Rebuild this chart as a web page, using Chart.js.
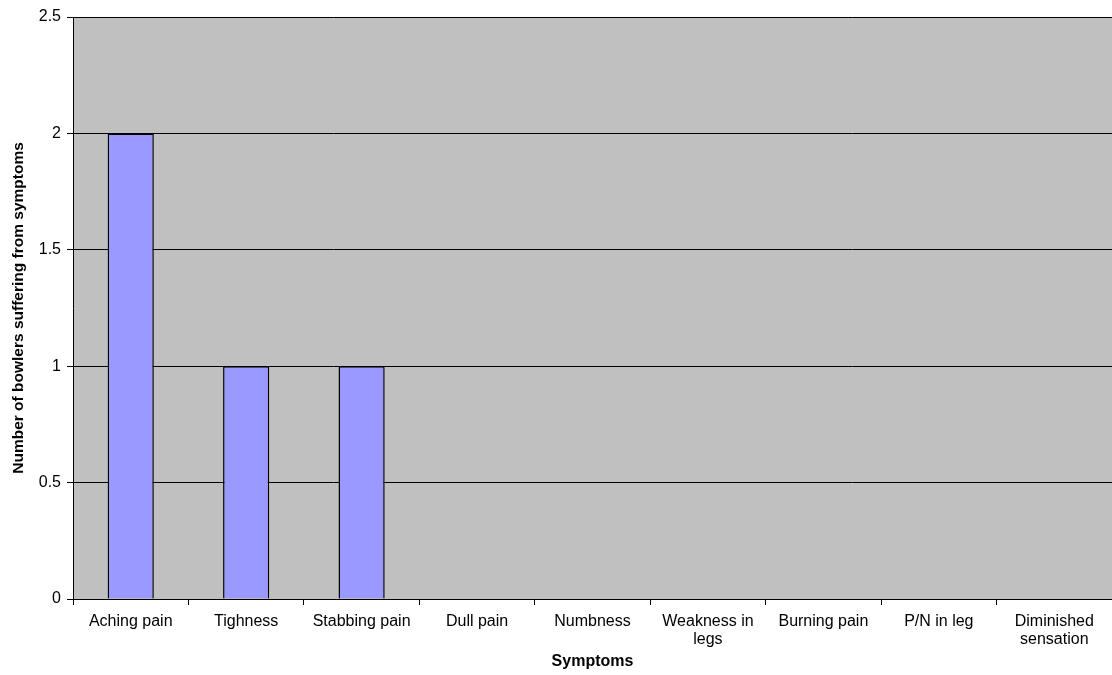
<!DOCTYPE html>
<html>
<head>
<meta charset="utf-8">
<script src="https://cdn.jsdelivr.net/npm/chart.js@4/dist/chart.umd.min.js"></script>
<style>
  html, body { margin: 0; padding: 0; background: #ffffff; }
  #wrap { width: 1112px; height: 675px; }
</style>
</head>
<body>
<div id="wrap"><canvas id="c" width="1112" height="675"></canvas></div>
<script>
// Symptom categories (multi-line labels are arrays)
const categories = [
  'Aching pain', 'Tighness', 'Stabbing pain', 'Dull pain', 'Numbness',
  ['Weakness in', 'legs'], 'Burning pain', 'P/N in leg', ['Diminished', 'sensation']
];
// Number of bowlers reporting each symptom
const bowlerCounts = [2, 1, 1, 0, 0, 0, 0, 0, 0];
// Value axis range and step
const yMin = 0;
const yMax = 2.5;
const yStep = 0.5;

const FONT = "'Liberation Sans', Arial, sans-serif";

// Grey fill behind the plotting area
const plotBackground = {
  id: 'plotBackground',
  beforeDraw(chart) {
    const { ctx, chartArea: a } = chart;
    ctx.save();
    ctx.fillStyle = '#c0c0c0';
    ctx.fillRect(a.left, a.top, a.right - a.left, a.bottom - a.top);
    ctx.restore();
  }
};

new Chart(document.getElementById('c'), {
  type: 'bar',
  data: {
    labels: categories,
    datasets: [{
      data: bowlerCounts,
      backgroundColor: '#9999ff',
      borderColor: '#000000',
      borderWidth: 1.5,
      barPercentage: 0.4,
      categoryPercentage: 1.0
    }]
  },
  options: {
    responsive: false,
    animation: false,
    layout: { padding: { top: 17, right: 0, bottom: 0, left: 0 } },
    plugins: {
      legend: { display: false },
      tooltip: { enabled: false }
    },
    scales: {
      x: {
        offset: true,
        grid: {
          offset: true,
          drawOnChartArea: false,
          drawTicks: true,
          tickLength: 6,
          color: '#000000'
        },
        border: { color: '#000000', width: 1 },
        ticks: {
          color: '#000000',
          padding: 8,
          maxRotation: 0,
          autoSkip: false,
          font: { family: FONT, size: 16, lineHeight: 1.1 }
        },
        title: {
          display: true,
          text: 'Symptoms',
          color: '#000000',
          padding: { top: 0, bottom: 4 },
          font: { family: FONT, size: 16, weight: 'bold' }
        },
        afterFit(scale) { scale.height = 76; }
      },
      y: {
        min: yMin,
        max: yMax,
        ticks: {
          stepSize: yStep,
          color: '#000000',
          padding: 6,
          font: { family: FONT, size: 16 },
          callback: (value) => String(value)
        },
        grid: {
          color: '#000000',
          tickLength: 6,
          drawTicks: true
        },
        border: { color: '#000000', width: 1 },
        title: {
          display: true,
          text: 'Number of bowlers suffering from symptoms',
          color: '#000000',
          padding: { top: 9, bottom: 0 },
          font: { family: FONT, size: 15.5, weight: 'bold' }
        },
        afterFit(scale) { scale.width = 73; }
      }
    }
  },
  plugins: [plotBackground]
});
</script>
</body>
</html>
